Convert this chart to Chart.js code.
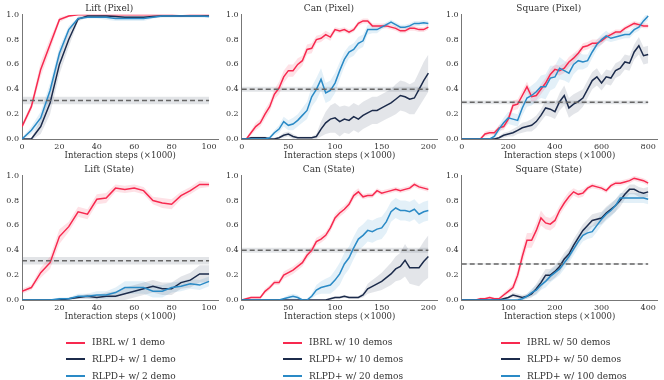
<!DOCTYPE html>
<html><head><meta charset="utf-8">
<script src="https://cdn.jsdelivr.net/npm/chart.js@4.4.1/dist/chart.umd.min.js"></script>
<style>
html,body{margin:0;padding:0;background:#fff;width:664px;height:380px;overflow:hidden;}
canvas{position:absolute;}
.leg{position:absolute;font-family:'DejaVu Serif';font-size:9px;color:#333;white-space:nowrap;line-height:12px;}
.sw{position:absolute;height:2px;width:19px;}
</style></head><body>
<canvas id="c1" width="222" height="165" style="left:0;top:0"></canvas>
<canvas id="c2" width="222" height="165" style="left:220px;top:0"></canvas>
<canvas id="c3" width="224" height="165" style="left:440px;top:0"></canvas>
<canvas id="c4" width="222" height="165" style="left:0;top:161px"></canvas>
<canvas id="c5" width="222" height="165" style="left:220px;top:161px"></canvas>
<canvas id="c6" width="224" height="165" style="left:440px;top:161px"></canvas>
<div id="legends"></div>
<script>
// ---------- categories / steps (x1000) ----------
const liftSteps = [0,5,10,15,20,25,30,35,40,45,50,55,60,65,70,75,80,85,90,95,100];
const canSteps = [0,5,10,15,20,25,30,35,40,45,50,55,60,65,70,75,80,85,90,95,100,105,110,115,120,125,130,135,140,145,150,155,160,165,170,175,180,185,190,195,200];
const squarePixSteps = [0,20,40,60,80,100,120,140,160,180,200,220,240,260,280,300,320,340,360,380,400,420,440,460,480,500,520,540,560,580,600,620,640,660,680,700,720,740,760,780,800];
const squareStateSteps = [0,10,20,30,40,50,60,70,80,90,100,110,120,130,140,150,160,170,180,190,200,210,220,230,240,250,260,270,280,290,300,310,320,330,340,350,360,370,380,390,400];

// ---------- tick labels ----------
const yTicks = [0,0.2,0.4,0.6,0.8,1.0];
const liftTicks = [0,20,40,60,80,100];
const canTicks = [0,50,100,150,200];
const squarePixTicks = [0,200,400,600,800];
const squareStateTicks = [0,100,200,300,400];

const titles = ['Lift (Pixel)','Can (Pixel)','Square (Pixel)','Lift (State)','Can (State)','Square (State)'];
const xAxisLabel = 'Interaction steps (\u00d71000)';
const legendLabels = [
  ['IBRL w/ 1 demo','RLPD+ w/ 1 demo','RLPD+ w/ 2 demo'],
  ['IBRL w/ 10 demos','RLPD+ w/ 10 demos','RLPD+ w/ 20 demos'],
  ['IBRL w/ 50 demos','RLPD+ w/ 50 demos','RLPD+ w/ 100 demos']
];

// ---------- Lift (Pixel) ----------
const liftPixIBRL  = [0.10,0.26,0.56,0.76,0.96,0.99,1.0,1.0,1.0,1.0,1.0,1.0,1.0,1.0,1.0,1.0,1.0,0.99,1.0,1.0,1.0];
const liftPixRLPDa = [0,0,0.10,0.29,0.60,0.80,0.965,0.99,0.99,0.99,0.985,0.98,0.98,0.98,0.985,0.99,0.99,0.99,0.99,0.99,0.99];
const liftPixRLPDb = [0,0.07,0.17,0.39,0.69,0.88,0.97,0.98,0.98,0.98,0.97,0.97,0.97,0.97,0.98,0.99,0.99,0.99,0.99,0.99,0.985];
const liftPixIBRLSd  = [0.02,0.03,0.06,0.05,0.02,0.01,0,0,0,0,0,0,0,0,0,0,0,0.01,0,0,0];
const liftPixRLPDaSd = [0,0.01,0.06,0.09,0.08,0.06,0.02,0.01,0.01,0.01,0.01,0.01,0.01,0.01,0.01,0.01,0.01,0.01,0.01,0.01,0.01];
const liftPixRLPDbSd = [0.01,0.03,0.05,0.06,0.05,0.03,0.01,0.01,0.01,0.02,0.02,0.02,0.02,0.02,0.01,0.01,0.01,0.01,0.01,0.01,0.01];
const liftPixBase = 0.31, liftPixBaseSd = 0.03;

// ---------- Can (Pixel) ----------
const canPixIBRL  = [0,0,0.05,0.10,0.13,0.20,0.26,0.36,0.41,0.50,0.55,0.55,0.60,0.63,0.72,0.73,0.80,0.81,0.84,0.82,0.88,0.87,0.88,0.86,0.88,0.93,0.95,0.95,0.91,0.91,0.91,0.91,0.90,0.89,0.87,0.87,0.89,0.89,0.88,0.88,0.90];
const canPixRLPDa = [0,0,0.01,0.01,0.01,0.01,0,0,0.01,0.03,0.04,0.02,0.01,0.01,0.01,0.01,0.02,0.08,0.13,0.16,0.17,0.14,0.16,0.15,0.18,0.16,0.19,0.21,0.23,0.23,0.25,0.27,0.29,0.32,0.35,0.34,0.32,0.33,0.40,0.47,0.53];
const canPixRLPDb = [0,0,0,0,0,0,0.01,0.05,0.08,0.14,0.11,0.12,0.15,0.19,0.23,0.34,0.40,0.48,0.37,0.39,0.45,0.55,0.64,0.70,0.72,0.77,0.79,0.88,0.88,0.88,0.90,0.92,0.94,0.92,0.90,0.90,0.91,0.93,0.93,0.935,0.93];
const canPixIBRLSd  = [0,0.01,0.02,0.03,0.03,0.04,0.04,0.04,0.05,0.05,0.05,0.05,0.05,0.04,0.04,0.04,0.03,0.03,0.03,0.03,0.02,0.02,0.02,0.02,0.02,0.02,0.02,0.02,0.02,0.02,0.02,0.02,0.02,0.02,0.02,0.02,0.02,0.02,0.02,0.02,0.02];
const canPixRLPDaSd = [0,0,0.01,0.01,0.01,0.01,0.01,0.01,0.01,0.02,0.02,0.02,0.01,0.01,0.01,0.01,0.02,0.06,0.09,0.11,0.12,0.12,0.11,0.11,0.11,0.11,0.11,0.11,0.11,0.11,0.11,0.11,0.11,0.12,0.12,0.12,0.12,0.13,0.14,0.15,0.15];
const canPixRLPDbSd = [0,0,0,0,0,0.01,0.01,0.02,0.03,0.04,0.04,0.05,0.05,0.06,0.07,0.08,0.09,0.09,0.08,0.08,0.08,0.07,0.06,0.05,0.05,0.05,0.05,0.04,0.03,0.03,0.02,0.02,0.02,0.02,0.02,0.02,0.02,0.02,0.02,0.02,0.02];
const canPixBase = 0.40, canPixBaseSd = 0.02;

// ---------- Square (Pixel) ----------
const sqPixIBRL  = [0,0,0,0,0,0.04,0.05,0.05,0.09,0.10,0.16,0.27,0.28,0.35,0.42,0.34,0.35,0.40,0.45,0.52,0.56,0.55,0.57,0.62,0.65,0.69,0.74,0.75,0.77,0.77,0.79,0.82,0.84,0.86,0.86,0.89,0.91,0.93,0.92,0.91,0.91];
const sqPixRLPDa = [0,0,0,0,0,0,0,0,0.01,0.03,0.04,0.05,0.07,0.09,0.10,0.11,0.14,0.19,0.25,0.24,0.22,0.30,0.35,0.25,0.28,0.30,0.33,0.40,0.47,0.50,0.45,0.50,0.49,0.55,0.57,0.62,0.61,0.70,0.75,0.67,0.68];
const sqPixRLPDb = [0,0,0,0,0,0,0,0.02,0.08,0.13,0.17,0.16,0.15,0.25,0.33,0.35,0.38,0.42,0.42,0.49,0.50,0.57,0.55,0.53,0.60,0.63,0.62,0.63,0.70,0.76,0.80,0.83,0.81,0.82,0.83,0.84,0.84,0.88,0.90,0.95,0.99];
const sqPixIBRLSd  = [0,0,0,0,0,0.02,0.02,0.02,0.02,0.03,0.03,0.04,0.04,0.04,0.04,0.04,0.04,0.04,0.04,0.04,0.04,0.04,0.04,0.04,0.04,0.03,0.03,0.03,0.03,0.03,0.03,0.02,0.02,0.02,0.02,0.02,0.02,0.02,0.02,0.02,0.02];
const sqPixRLPDaSd = [0,0,0,0,0,0,0,0,0.01,0.02,0.02,0.03,0.03,0.04,0.04,0.05,0.05,0.05,0.06,0.06,0.06,0.07,0.08,0.08,0.08,0.08,0.07,0.07,0.07,0.07,0.06,0.06,0.06,0.06,0.06,0.06,0.06,0.06,0.07,0.07,0.07];
const sqPixRLPDbSd = [0,0,0,0,0,0,0,0.02,0.03,0.04,0.05,0.05,0.05,0.06,0.07,0.08,0.08,0.09,0.10,0.10,0.09,0.09,0.08,0.08,0.08,0.07,0.06,0.05,0.05,0.04,0.04,0.04,0.03,0.03,0.03,0.03,0.03,0.03,0.03,0.03,0.03];
const sqPixBase = 0.295, sqPixBaseSd = 0.015;

// ---------- Lift (State) ----------
const liftStIBRL  = [0.07,0.10,0.22,0.30,0.51,0.59,0.71,0.69,0.81,0.82,0.90,0.89,0.90,0.88,0.80,0.78,0.77,0.84,0.88,0.93,0.93];
const liftStRLPDa = [0,0,0,0,0,0.01,0.02,0.03,0.02,0.03,0.03,0.05,0.07,0.09,0.11,0.09,0.09,0.14,0.16,0.21,0.21];
const liftStRLPDb = [0,0,0,0,0.01,0.01,0.03,0.03,0.04,0.04,0.06,0.10,0.10,0.10,0.07,0.07,0.10,0.11,0.13,0.12,0.15];
const liftStIBRLSd  = [0.02,0.02,0.04,0.05,0.06,0.04,0.04,0.04,0.04,0.04,0.03,0.03,0.03,0.03,0.03,0.04,0.04,0.03,0.03,0.03,0.02];
const liftStRLPDaSd = [0,0,0,0,0,0.01,0.01,0.02,0.02,0.03,0.04,0.05,0.05,0.05,0.05,0.05,0.05,0.05,0.06,0.07,0.07];
const liftStRLPDbSd = [0,0,0,0,0.01,0.01,0.02,0.02,0.03,0.03,0.04,0.05,0.05,0.05,0.05,0.05,0.04,0.04,0.04,0.04,0.04];
const liftStBase = 0.315, liftStBaseSd = 0.03;

// ---------- Can (State) ----------
const canStIBRL  = [0,0.01,0.02,0.02,0.02,0.07,0.10,0.14,0.14,0.20,0.22,0.24,0.27,0.30,0.36,0.40,0.47,0.49,0.52,0.58,0.66,0.70,0.73,0.77,0.84,0.87,0.83,0.84,0.84,0.88,0.86,0.87,0.88,0.89,0.88,0.89,0.90,0.93,0.91,0.90,0.89];
const canStRLPDa = [0,0,0,0,0,0,0,0,0,0,0,0,0,0,0,0,0,0,0,0.01,0.02,0.02,0.03,0.02,0.02,0.02,0.04,0.09,0.11,0.13,0.15,0.18,0.21,0.25,0.27,0.32,0.26,0.26,0.26,0.31,0.35];
const canStRLPDb = [0,0,0,0,0,0,0,0,0,0.01,0.02,0.03,0.02,0,0,0.03,0.08,0.10,0.11,0.12,0.16,0.21,0.29,0.34,0.42,0.49,0.52,0.56,0.55,0.57,0.58,0.63,0.71,0.74,0.72,0.72,0.71,0.73,0.69,0.71,0.72];
const canStIBRLSd  = [0,0.01,0.01,0.01,0.01,0.02,0.02,0.02,0.02,0.03,0.03,0.03,0.03,0.03,0.03,0.03,0.03,0.03,0.03,0.03,0.03,0.03,0.03,0.03,0.03,0.03,0.02,0.02,0.02,0.02,0.02,0.02,0.02,0.02,0.02,0.02,0.02,0.02,0.02,0.02,0.02];
const canStRLPDaSd = [0,0,0,0,0,0,0,0,0,0,0,0,0,0,0,0,0,0,0,0.01,0.01,0.01,0.01,0.01,0.01,0.01,0.02,0.04,0.05,0.06,0.07,0.08,0.09,0.10,0.11,0.13,0.13,0.14,0.15,0.16,0.17];
const canStRLPDbSd = [0,0,0,0,0,0,0,0,0,0.01,0.02,0.02,0.02,0.01,0.01,0.02,0.04,0.05,0.06,0.07,0.08,0.09,0.09,0.09,0.09,0.09,0.09,0.09,0.09,0.09,0.09,0.09,0.08,0.08,0.08,0.08,0.08,0.08,0.08,0.08,0.08];
const canStBase = 0.40, canStBaseSd = 0.02;

// ---------- Square (State) ----------
const sqStIBRL  = [0,0,0,0,0.01,0.01,0.02,0.01,0.01,0.04,0.07,0.10,0.20,0.35,0.48,0.48,0.56,0.66,0.62,0.61,0.64,0.72,0.78,0.83,0.87,0.85,0.86,0.90,0.92,0.91,0.90,0.88,0.92,0.94,0.94,0.95,0.96,0.98,0.97,0.96,0.94];
const sqStRLPDa = [0,0,0,0,0,0,0,0,0,0.01,0.02,0.04,0.03,0.02,0.03,0.05,0.09,0.14,0.20,0.20,0.23,0.27,0.33,0.37,0.44,0.50,0.56,0.60,0.64,0.65,0.66,0.70,0.73,0.76,0.80,0.85,0.89,0.89,0.87,0.86,0.87];
const sqStRLPDb = [0,0,0,0,0,0,0,0,0,0,0,0,0,0.01,0.03,0.06,0.08,0.12,0.15,0.19,0.22,0.25,0.30,0.35,0.41,0.47,0.52,0.54,0.55,0.60,0.65,0.69,0.72,0.76,0.82,0.82,0.82,0.82,0.82,0.82,0.81];
const sqStIBRLSd  = [0,0,0,0,0.01,0.01,0.01,0.01,0.01,0.02,0.02,0.03,0.05,0.06,0.06,0.06,0.06,0.06,0.05,0.05,0.05,0.04,0.04,0.04,0.03,0.03,0.03,0.02,0.02,0.02,0.02,0.02,0.02,0.02,0.02,0.02,0.02,0.02,0.02,0.02,0.02];
const sqStRLPDaSd = [0,0,0,0,0,0,0,0,0,0.01,0.01,0.02,0.02,0.02,0.02,0.03,0.04,0.05,0.05,0.05,0.05,0.05,0.05,0.05,0.05,0.05,0.05,0.05,0.05,0.05,0.05,0.05,0.05,0.05,0.05,0.04,0.04,0.04,0.04,0.04,0.04];
const sqStRLPDbSd = [0,0,0,0,0,0,0,0,0,0,0,0,0,0.01,0.02,0.03,0.04,0.04,0.05,0.05,0.05,0.05,0.05,0.05,0.05,0.05,0.05,0.05,0.05,0.05,0.05,0.05,0.05,0.05,0.04,0.04,0.04,0.04,0.04,0.04,0.04];
const sqStBase = 0.29, sqStBaseSd = 0.005;

// ---------- styling ----------
const COLORS = ['#f7294f','#1c2b4b','#2a8ac6'];
const BANDS = ['rgba(247,41,79,0.14)','rgba(28,43,75,0.12)','rgba(42,138,198,0.13)'];
const FONT = 'DejaVu Serif';
const TXT = '#333';

function buildChart(id, title, steps, series, sds, base, baseSd, xmax, xticks, yW, padR) {
  const ds = [];
  series.forEach((s, i) => {
    const lo = ds.length;
    ds.push({data: steps.map((x,k)=>({x, y: s[k]-sds[i][k]})), borderWidth:0, pointRadius:0, fill:false, order:100});
    ds.push({data: steps.map((x,k)=>({x, y: s[k]+sds[i][k]})), borderWidth:0, pointRadius:0,
      fill:{target: lo}, backgroundColor: BANDS[i], order:100});
  });
  const x0 = steps[0], x1 = steps[steps.length-1];
  const blo = ds.length;
  ds.push({data:[{x:x0,y:base-baseSd},{x:x1,y:base-baseSd}], borderWidth:0, pointRadius:0, fill:false, order:100});
  ds.push({data:[{x:x0,y:base+baseSd},{x:x1,y:base+baseSd}], borderWidth:0, pointRadius:0,
    fill:{target: blo}, backgroundColor:'rgba(110,118,135,0.2)', order:100});
  series.forEach((s, i) => {
    ds.push({data: steps.map((x,k)=>({x, y: s[k]})), borderColor: COLORS[i], borderWidth:1.5,
      pointRadius:0, fill:false, tension:0, order: 10 - i});
  });
  ds.push({data:[{x:x0,y:base},{x:x1,y:base}], borderColor:'#666', borderWidth:1.5, borderDash:[5,3],
    pointRadius:0, fill:false, order:1});

  new Chart(document.getElementById(id), {
    type:'line',
    data:{datasets: ds},
    options:{
      responsive:false, animation:false, devicePixelRatio:1,
      layout:{padding:{left:0,right:padR,top:0,bottom:0}},
      plugins:{
        legend:{display:false}, tooltip:{enabled:false},
        title:{display:true, text:title, color:TXT, font:{family:FONT,size:9,weight:'normal'}, padding:{top:3.3,bottom:0.6}}
      },
      scales:{
        x:{type:'linear', min:0, max:xmax,
          grid:{display:false, drawTicks:false, tickLength:0}, border:{display:true,color:'#777',width:1},
          ticks:{color:TXT, font:{family:FONT,size:8}, padding:3, maxRotation:0, autoSkip:false},
          afterBuildTicks:s=>{s.ticks = xticks.map(v=>({value:v}));},
          afterFit:s=>{s.height = 26;},
          title:{display:true, text:xAxisLabel, color:TXT, font:{family:FONT,size:8.5}, padding:{top:0,bottom:4.5}}
        },
        y:{min:0, max:1,
          grid:{display:false, drawTicks:false, tickLength:0}, border:{display:true,color:'#777',width:1},
          ticks:{color:TXT, font:{family:FONT,size:8}, padding:3, callback:v=>Number(v).toFixed(1)},
          afterBuildTicks:s=>{s.ticks = yTicks.map(v=>({value:v}));},
          afterFit:s=>{s.width = yW;}
        }
      }
    }
  });
}

buildChart('c1', titles[0], liftSteps, [liftPixIBRL, liftPixRLPDa, liftPixRLPDb], [liftPixIBRLSd, liftPixRLPDaSd, liftPixRLPDbSd], liftPixBase, liftPixBaseSd, 105, liftTicks, 22, 3.6);
buildChart('c2', titles[1], canSteps, [canPixIBRL, canPixRLPDa, canPixRLPDb], [canPixIBRLSd, canPixRLPDaSd, canPixRLPDbSd], canPixBase, canPixBaseSd, 210, canTicks, 21.7, 4.3);
buildChart('c3', titles[2], squarePixSteps, [sqPixIBRL, sqPixRLPDa, sqPixRLPDb], [sqPixIBRLSd, sqPixRLPDaSd, sqPixRLPDbSd], sqPixBase, sqPixBaseSd, 840, squarePixTicks, 21.7, 6.5);
buildChart('c4', titles[3], liftSteps, [liftStIBRL, liftStRLPDa, liftStRLPDb], [liftStIBRLSd, liftStRLPDaSd, liftStRLPDbSd], liftStBase, liftStBaseSd, 105, liftTicks, 22, 3.6);
buildChart('c5', titles[4], canSteps, [canStIBRL, canStRLPDa, canStRLPDb], [canStIBRLSd, canStRLPDaSd, canStRLPDbSd], canStBase, canStBaseSd, 210, canTicks, 21.7, 4.3);
buildChart('c6', titles[5], squareStateSteps, [sqStIBRL, sqStRLPDa, sqStRLPDb], [sqStIBRLSd, sqStRLPDaSd, sqStRLPDbSd], sqStBase, sqStBaseSd, 420, squareStateTicks, 21.7, 6.5);

// ---------- legends ----------
const legCols = [66, 283, 501];
const legRows = [342.5, 359, 376];
const legWrap = document.getElementById('legends');
legendLabels.forEach((labels, c) => {
  labels.forEach((lab, r) => {
    const sw = document.createElement('div');
    sw.className = 'sw';
    sw.style.left = legCols[c] + 'px';
    sw.style.top = (legRows[r] - 1) + 'px';
    sw.style.background = COLORS[r];
    legWrap.appendChild(sw);
    const t = document.createElement('div');
    t.className = 'leg';
    t.textContent = lab;
    t.style.left = (legCols[c] + 26) + 'px';
    t.style.top = (legRows[r] - 6.5) + 'px';
    legWrap.appendChild(t);
  });
});
</script>
</body></html>
